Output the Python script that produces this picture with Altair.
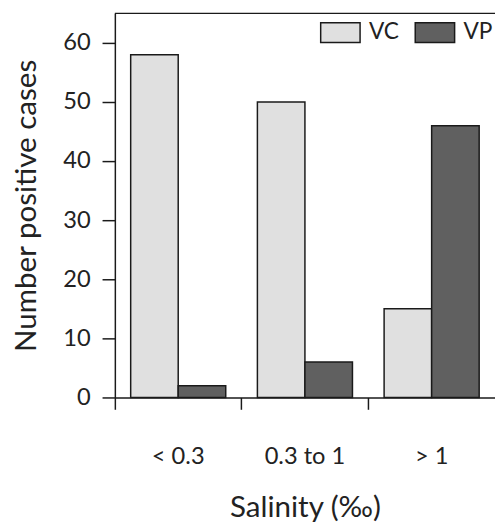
import altair as alt
import pandas as pd

categories = ["< 0.3", "0.3 to 1", "> 1"]
series = ["VC", "VP"]
vc_values = [58, 50, 15]
vp_values = [2, 6, 46]

rows = []
for c, v in zip(categories, vc_values):
    rows.append({"salinity": c, "species": "VC", "cases": v})
for c, v in zip(categories, vp_values):
    rows.append({"salinity": c, "species": "VP", "cases": v})
df = pd.DataFrame(rows)

FONT = "Lato"
W = 386
H = 390

color_scale = alt.Scale(domain=series, range=["#e0e0e0", "#606060"])

bars = alt.Chart(df).mark_bar(stroke="#1a1a1a", strokeWidth=1.5, cornerRadius=0).encode(
    x=alt.X(
        "salinity:N",
        sort=categories,
        scale=alt.Scale(paddingInner=0, paddingOuter=0),
        axis=alt.Axis(
            title="Salinity (‰)",
            labelAngle=0,
            bandPosition=0,
            tickSize=12,
            labelPadding=36,
            labelFontSize=24,
            titleFontSize=30,
            titlePadding=25,
        ),
    ),
    xOffset=alt.XOffset("species:N", sort=series,
                        scale=alt.Scale(paddingInner=0, paddingOuter=0.333)),
    y=alt.Y(
        "cases:Q",
        scale=alt.Scale(domain=[0, 65], nice=False),
        axis=alt.Axis(
            title="Number positive cases",
            values=[0, 10, 20, 30, 40, 50, 60],
            tickSize=13,
            labelPadding=12,
            labelFontSize=24,
            titleFontSize=30,
            titlePadding=22,
        ),
    ),
    color=alt.Color(
        "species:N",
        scale=color_scale,
        sort=series,
        legend=alt.Legend(
            title=None,
            orient="none",
            legendX=208,
            legendY=-1.5,
            direction="horizontal",
            symbolType="M-1,-0.5H1V0.5H-1Z",
            symbolSize=1600,
            symbolStrokeColor="#1a1a1a",
            symbolStrokeWidth=1.5,
            symbolOpacity=1,
            labelFontSize=23,
            labelOffset=8,
            columnPadding=13,
            labelColor="#222222",
        ),
    ),
)

top_border = alt.Chart(pd.DataFrame({"top": [65]})).mark_rule(
    color="#1a1a1a", strokeWidth=1.5
).encode(y="top:Q")

chart = alt.layer(bars, top_border).properties(
    width=W,
    height=H,
    autosize=alt.AutoSizeParams(type="none"),
    padding={"left": 108.5, "top": 1.5, "right": 0, "bottom": 123},
).configure_view(
    stroke=None
).configure_axis(
    grid=False,
    domainColor="#1a1a1a",
    domainWidth=1.5,
    tickColor="#1a1a1a",
    tickWidth=1.5,
    labelColor="#222222",
    titleColor="#222222",
    labelFont=FONT,
    titleFont=FONT,
    titleFontWeight="normal",
).configure_legend(
    labelFont=FONT,
)

chart.save("out.html", embed_options={"renderer": "svg", "actions": False})
